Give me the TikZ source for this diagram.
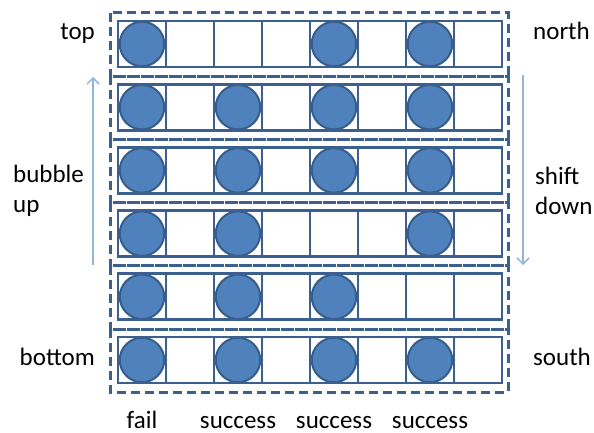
\documentclass[tikz,border=0pt]{standalone}
\usepackage{fontspec}
\setmainfont{Carlito}
\usetikzlibrary{arrows.meta}
\definecolor{cCell}{HTML}{3B5F8F}
\definecolor{cBall}{HTML}{4F81BD}
\definecolor{cRim}{HTML}{385D8A}
\definecolor{cArr}{HTML}{95B3D7}
\tikzset{
  every node/.style={font=\fontsize{25}{29.5}\selectfont, text=black},
  cell/.style={draw=cCell, line width=2.9pt, minimum width=48pt, minimum height=46pt, inner sep=0pt},
  ball/.style={circle, draw=cRim, line width=2pt, fill=cBall, minimum size=44.5pt, inner sep=0pt},
  frame/.style={draw=cCell, line width=3pt, dash pattern=on 9pt off 5pt},
  flow/.style={-{Straight Barb[length=6pt,width=12pt]}, draw=cArr, line width=1.5pt},
  lbl/.style={inner sep=0pt, align=left},
}

\begin{document}
\begin{tikzpicture}[x=1pt,y=-1pt]
\useasboundingbox (0,0) rectangle (594,433);
% ---------------- rows of slots
\foreach \r/\on in {1/{1,5,7},2/{1,3,5,7},3/{1,3,5,7},4/{1,3,7},5/{1,3,5},6/{1,3,5,7}}{
  \draw[frame] (110,{13+63.2*(\r-1)}) rectangle (508,{13+63.2*\r});
  \foreach \c in \on {\node[ball] (b\r\c) at ({94+48*\c},{44+63.2*(\r-1)}) {};}
  \foreach \c in {1,...,8} {\node[cell] (c\r\c) at ({94+48*\c},{44+63.2*(\r-1)}) {};}
}

% ---------------- side labels
\node[lbl, anchor=base east] (top) at (95,40) {top};
\node[lbl, anchor=base east] (bottom) at (95,365) {bottom};
\node[lbl, anchor=base west] (north) at (533,40) {north};
\node[lbl, anchor=base west] (south) at (533,365) {south};
\node[lbl, anchor=west] (bubble) at (13,191) {bubble\\up};
\node[lbl, anchor=west] (shift) at (535,191) {shift\\down};

% ---------------- bubble up / shift down
\coordinate (bu-from) at (93,265);
\coordinate (bu-to) at (93,77);
\coordinate (sd-from) at (523,75);
\coordinate (sd-to) at (523,265);
\draw[flow] (bu-from) -- (bu-to);
\draw[flow] (sd-from) -- (sd-to);

% ---------------- outcome per column
\node[lbl, anchor=base] (fail) at (c61 |- 0,428) {fail};
\node[lbl, anchor=base] (ok3) at (c63 |- 0,428) {success};
\node[lbl, anchor=base] (ok5) at (c65 |- 0,428) {success};
\node[lbl, anchor=base] (ok7) at (c67 |- 0,428) {success};
\end{tikzpicture}
\end{document}
